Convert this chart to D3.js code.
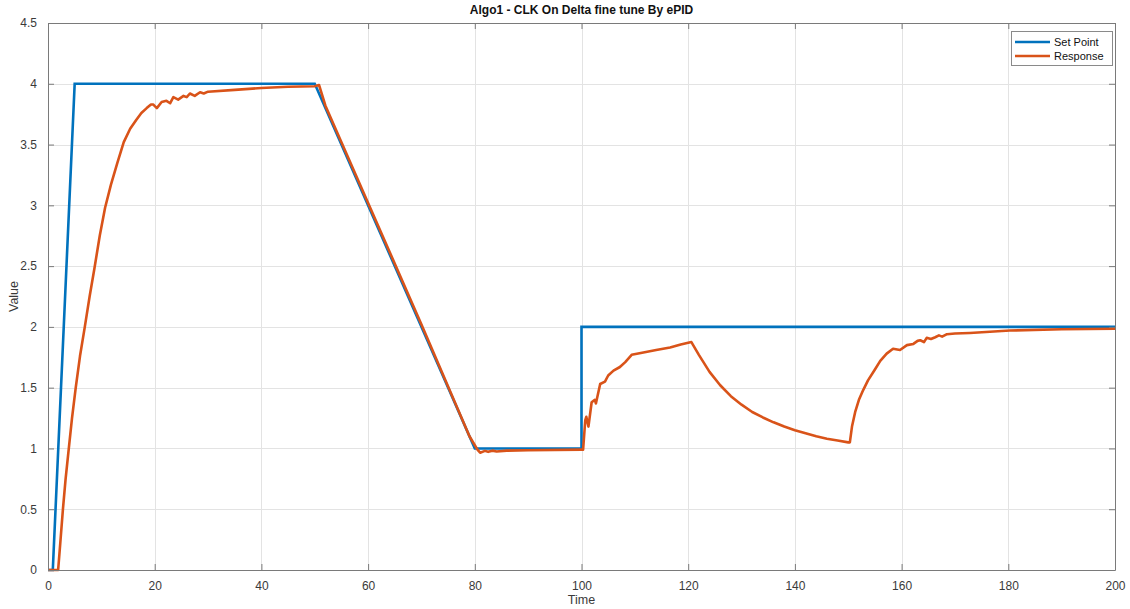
<!DOCTYPE html>
<html>
<head>
<meta charset="utf-8">
<script src="https://cdn.jsdelivr.net/npm/d3@7"></script>
<style>
  html, body { margin: 0; padding: 0; background: #ffffff; }
  svg { display: block; font-family: "Liberation Sans", Arial, sans-serif; }
</style>
</head>
<body>
<svg id="chart" width="1130" height="609"></svg>
<script>
// ---- data ----
const title = "Algo1 - CLK On Delta fine tune By ePID";
const xLabel = "Time";
const yLabel = "Value";
const seriesNames = ["Set Point", "Response"];
const xTicks = [0, 20, 40, 60, 80, 100, 120, 140, 160, 180, 200];
const yTicks = [0, 0.5, 1, 1.5, 2, 2.5, 3, 3.5, 4, 4.5];

const setPointT = [0, 0.9, 5, 50, 80, 100, 100, 200];
const setPointV = [0, 0, 4, 4, 1, 1, 2, 2];

const responseT = [
  0, 1.9, 2.3, 2.8, 3.3, 3.9, 4.5, 5.2, 6, 6.9, 7.8, 8.7, 9.7, 10.7, 11.8, 13, 14.2, 15.4, 16.5, 17.5, 18.5, 19.3,
  19.7, 20.4, 21.3, 22.2, 22.9, 23.5, 24.4, 25.4, 26.0, 26.6, 27.5, 28.5, 29.2, 30, 35, 40, 45, 50, 50.8,
  52, 60, 70, 79, 80.5, 81, 81.9, 82.5, 83.3, 84.1, 86, 90, 100, 100.3,
  100.7, 100.9, 101.3, 101.9, 102.5, 102.7, 103.5, 104.4, 105, 106, 107.2, 108.2, 109.4, 111.6, 114, 116.6, 118.6, 120.6,
  122, 124, 126, 128, 130, 132, 134, 136, 138, 140, 142, 144, 146, 148, 150, 150.3,
  150.7, 151.3, 152, 152.8, 153.7, 155, 156, 157.2, 158.4, 159.7, 161, 162.2, 163, 163.5, 164.2, 164.7, 165.5, 166.3, 167, 167.6, 168.5, 170, 172.8, 180.3, 190, 200
];
const responseV = [
  0, 0, 0.22, 0.5, 0.75, 1.0, 1.25, 1.5, 1.76, 2.0, 2.25, 2.48, 2.75, 2.98, 3.17, 3.35, 3.52, 3.63, 3.70, 3.76, 3.80, 3.83,
  3.83, 3.80, 3.85, 3.86, 3.84, 3.89, 3.87, 3.90, 3.89, 3.92, 3.90, 3.93, 3.92, 3.935, 3.95, 3.965, 3.975, 3.98, 3.99,
  3.82, 3.02, 2.02, 1.1, 0.99, 0.965, 0.98, 0.972, 0.982, 0.975, 0.982, 0.985, 0.99, 0.99,
  1.23, 1.26, 1.18, 1.38, 1.40, 1.37, 1.53, 1.55, 1.60, 1.64, 1.67, 1.71, 1.77, 1.79, 1.81, 1.83, 1.855, 1.875,
  1.77, 1.63, 1.52, 1.43, 1.36, 1.30, 1.255, 1.215, 1.18, 1.15, 1.125, 1.10, 1.08, 1.065, 1.05, 1.05,
  1.18, 1.30, 1.40, 1.48, 1.56, 1.65, 1.72, 1.78, 1.82, 1.81, 1.85, 1.86, 1.885, 1.89, 1.875, 1.91, 1.90, 1.915, 1.93, 1.92, 1.94, 1.945, 1.95, 1.97, 1.98, 1.985
];

// ---- layout ----
const svg = d3.select("#chart");
const L = 48, R = 1115, T = 23, B = 570;
const colors = ["#0072BD", "#D95319"];
const x = d3.scaleLinear().domain([0, 200]).range([L, R]);
const y = d3.scaleLinear().domain([0, 4.5]).range([B, T]);

svg.append("rect").attr("width", 1130).attr("height", 609).attr("fill", "#ffffff");
svg.append("rect").attr("x", L).attr("y", T).attr("width", R - L).attr("height", B - T).attr("fill", "#ffffff");

// grid
const grid = svg.append("g").attr("stroke", "#e3e3e3").attr("stroke-width", 1);
xTicks.forEach(t => grid.append("line").attr("x1", Math.round(x(t)) + 0.5).attr("x2", Math.round(x(t)) + 0.5).attr("y1", T).attr("y2", B));
yTicks.forEach(t => grid.append("line").attr("x1", L).attr("x2", R).attr("y1", Math.round(y(t)) + 0.5).attr("y2", Math.round(y(t)) + 0.5));

// lines
const line = d3.line().x(d => x(d[0])).y(d => y(d[1]));
const spData = setPointT.map((t, i) => [t, setPointV[i]]);
const rsData = responseT.map((t, i) => [t, responseV[i]]);
svg.append("path").datum(spData).attr("d", line).attr("fill", "none").attr("stroke", colors[0]).attr("stroke-width", 2.6).attr("stroke-linejoin", "miter");
svg.append("path").datum(rsData).attr("d", line).attr("fill", "none").attr("stroke", colors[1]).attr("stroke-width", 2.6).attr("stroke-linejoin", "round");

// axes
const axisColor = "#7a7a7a";
const textColor = "#3a3a3a";
const xAxis = d3.axisBottom(x).tickValues(xTicks).tickSizeInner(-6).tickSizeOuter(0).tickPadding(11).tickFormat(d3.format("d"));
const yAxis = d3.axisLeft(y).tickValues(yTicks).tickSizeInner(-6).tickSizeOuter(0).tickPadding(11).tickFormat(d => String(d));
const gx = svg.append("g").attr("transform", `translate(0,${B})`).call(xAxis);
const gy = svg.append("g").attr("transform", `translate(${L},0)`).call(yAxis);
const gxt = svg.append("g").attr("transform", `translate(0,${T})`).call(d3.axisTop(x).tickValues(xTicks).tickSizeInner(-6).tickSizeOuter(0).tickFormat(""));
const gyr = svg.append("g").attr("transform", `translate(${R},0)`).call(d3.axisRight(y).tickValues(yTicks).tickSizeInner(-6).tickSizeOuter(0).tickFormat(""));
[gx, gy, gxt, gyr].forEach(g => {
  g.selectAll("path.domain").attr("stroke", axisColor);
  g.selectAll(".tick line").attr("stroke", axisColor);
  g.selectAll("text").attr("fill", textColor).attr("font-size", 12).attr("font-family", "'Liberation Sans', Arial, sans-serif");
});

// title & labels
svg.append("text").attr("x", (L + R) / 2).attr("y", 14).attr("text-anchor", "middle")
  .attr("font-weight", "bold").attr("font-size", 12).attr("fill", "#111").text(title);
svg.append("text").attr("x", (L + R) / 2).attr("y", 604).attr("text-anchor", "middle")
  .attr("font-size", 12.5).attr("fill", textColor).text(xLabel);
svg.append("text").attr("transform", `translate(18,${(T + B) / 2}) rotate(-90)`).attr("text-anchor", "middle")
  .attr("font-size", 12.5).attr("fill", textColor).text(yLabel);

// legend
const lg = svg.append("g");
lg.append("rect").attr("x", 1011.5).attr("y", 31.5).attr("width", 101).attr("height", 34)
  .attr("fill", "#ffffff").attr("stroke", "#8a8a8a").attr("stroke-width", 1);
seriesNames.forEach((name, i) => {
  const yy = 42 + i * 14;
  lg.append("line").attr("x1", 1015).attr("x2", 1050).attr("y1", yy).attr("y2", yy)
    .attr("stroke", colors[i]).attr("stroke-width", 2.6);
  lg.append("text").attr("x", 1054).attr("y", yy + 4).attr("font-size", 11).attr("fill", "#111").text(name);
});
</script>
</body>
</html>
